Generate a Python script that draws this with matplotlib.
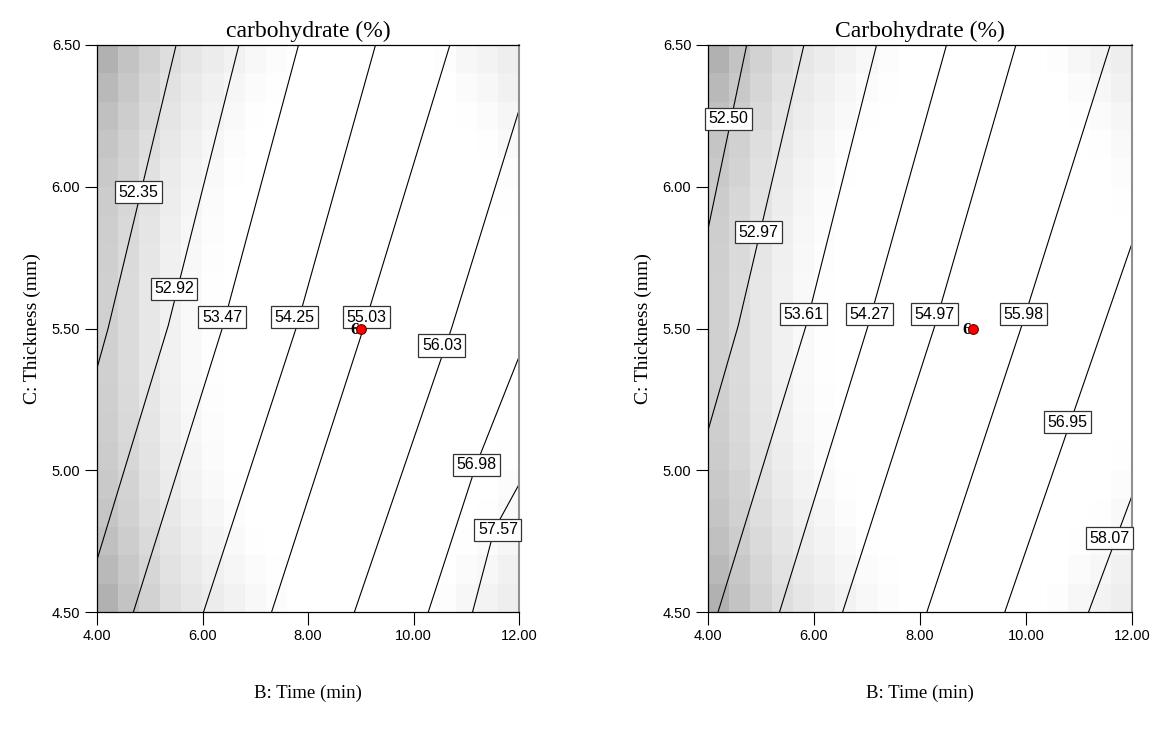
import numpy as np
import matplotlib
matplotlib.use("Agg")
import matplotlib.pyplot as plt

plt.rcParams["font.family"] = ["Liberation Sans", "DejaVu Sans"]

# 軸の範囲と目盛り
X_TICKS = [4.0, 6.0, 8.0, 10.0, 12.0]
Y_TICKS = [4.5, 5.0, 5.5, 6.0, 6.5]

# 背景の灰色 (255 - 値), 20 x 20 のブロック, 上の行から
SHADE_DARKNESS = [
    [78, 60, 45, 33, 25, 19, 13, 7, 3, 0, 0, 0, 0, 0, 0, 0, 2, 8, 11, 17],
    [70, 55, 41, 29, 21, 15, 9, 4, 1, 0, 0, 0, 0, 0, 0, 0, 0, 4, 8, 14],
    [63, 50, 37, 26, 18, 12, 6, 1, 0, 0, 0, 0, 0, 0, 0, 0, 0, 1, 4, 9],
    [58, 46, 33, 23, 15, 9, 3, 0, 0, 0, 0, 0, 0, 0, 0, 0, 0, 0, 1, 6],
    [54, 43, 30, 20, 12, 6, 1, 0, 0, 0, 0, 0, 0, 0, 0, 0, 0, 0, 0, 3],
    [51, 40, 28, 18, 10, 4, 0, 0, 0, 0, 0, 0, 0, 0, 0, 0, 0, 0, 0, 1],
    [49, 38, 26, 16, 8, 3, 0, 0, 0, 0, 0, 0, 0, 0, 0, 0, 0, 0, 0, 0],
    [48, 37, 25, 15, 7, 2, 0, 0, 0, 0, 0, 0, 0, 0, 0, 0, 0, 0, 0, 0],
    [47, 36, 24, 14, 6, 1, 0, 0, 0, 0, 0, 0, 0, 0, 0, 0, 0, 0, 0, 0],
    [47, 36, 24, 14, 6, 1, 0, 0, 0, 0, 0, 0, 0, 0, 0, 0, 0, 0, 0, 0],
    [47, 36, 24, 14, 6, 1, 0, 0, 0, 0, 0, 0, 0, 0, 0, 0, 0, 0, 0, 0],
    [47, 36, 24, 14, 6, 1, 0, 0, 0, 0, 0, 0, 0, 0, 0, 0, 0, 0, 0, 0],
    [48, 37, 25, 15, 7, 2, 0, 0, 0, 0, 0, 0, 0, 0, 0, 0, 0, 0, 0, 0],
    [49, 38, 26, 16, 8, 3, 0, 0, 0, 0, 0, 0, 0, 0, 0, 0, 0, 0, 0, 0],
    [51, 40, 28, 18, 10, 4, 0, 0, 0, 0, 0, 0, 0, 0, 0, 0, 0, 0, 0, 1],
    [54, 43, 30, 20, 12, 6, 1, 0, 0, 0, 0, 0, 0, 0, 0, 0, 0, 0, 0, 3],
    [58, 46, 33, 23, 15, 9, 3, 0, 0, 0, 0, 0, 0, 0, 0, 0, 0, 0, 1, 6],
    [63, 50, 37, 26, 18, 12, 6, 1, 0, 0, 0, 0, 0, 0, 0, 0, 0, 1, 4, 9],
    [70, 55, 41, 29, 21, 15, 9, 4, 1, 0, 0, 0, 0, 0, 0, 0, 0, 4, 8, 14],
    [78, 60, 45, 33, 25, 19, 13, 7, 3, 0, 0, 0, 0, 0, 0, 0, 2, 8, 11, 17],
]

# 左: carbohydrate の等高線
LEFT_TITLE = "carbohydrate (%)"
LEFT_LEVELS = [52.35, 52.92, 53.47, 54.25, 55.03, 56.03, 56.98, 57.57]
LEFT_LINE_X = [
    [5.50, 4.21, 4.00],
    [6.69, 5.35, 4.01],
    [7.82, 6.39, 4.69],
    [9.28, 7.79, 6.02],
    [10.69, 9.05, 7.31],
    [12.00, 10.72, 8.88],
    [12.00, 11.19, 10.28],
    [12.00, 11.53, 11.12],
]
LEFT_LINE_Y = [
    [6.50, 5.50, 5.36],
    [6.50, 5.51, 4.69],
    [6.50, 5.51, 4.50],
    [6.50, 5.51, 4.50],
    [6.50, 5.50, 4.50],
    [6.27, 5.50, 4.50],
    [5.40, 5.02, 4.50],
    [4.95, 4.79, 4.50],
]
LEFT_LABEL_X = [4.78, 5.46, 6.37, 7.75, 9.10, 10.54, 11.20, 11.60]
LEFT_LABEL_Y = [5.98, 5.64, 5.54, 5.54, 5.54, 5.44, 5.02, 4.79]

# 右: Carbohydrate の等高線
RIGHT_TITLE = "Carbohydrate (%)"
RIGHT_LEVELS = [52.50, 52.97, 53.61, 54.27, 54.97, 55.98, 56.95, 58.07]
RIGHT_LINE_X = [
    [4.73, 4.00],
    [5.81, 4.57, 4.00],
    [7.18, 5.85, 4.19],
    [8.50, 7.02, 5.35],
    [9.81, 8.28, 6.54],
    [11.59, 9.92, 8.13],
    [12.00, 9.60],
    [12.00, 11.18],
]
RIGHT_LINE_Y = [
    [6.50, 5.85],
    [6.50, 5.51, 5.14],
    [6.50, 5.51, 4.50],
    [6.50, 5.51, 4.50],
    [6.50, 5.51, 4.50],
    [6.50, 5.51, 4.50],
    [5.80, 4.50],
    [4.91, 4.50],
]
RIGHT_LABEL_X = [4.38, 4.95, 5.80, 7.04, 8.27, 9.95, 10.78, 11.57]
RIGHT_LABEL_Y = [6.24, 5.84, 5.55, 5.55, 5.55, 5.55, 5.17, 4.76]

# 設計点 (中心点, 6 回)
DESIGN_X = [9.0]
DESIGN_Y = [5.5]
DESIGN_COUNT = ["6"]

X_LABEL = "B: Time (min)"
Y_LABEL = "C: Thickness (mm)"

SERIF = ["Liberation Serif", "DejaVu Serif"]


def draw_panel(ax, title, levels, line_x, line_y, label_x, label_y):
    shade = 255 - np.array(SHADE_DARKNESS)
    ax.imshow(shade, cmap="gray", vmin=0, vmax=255, origin="upper",
              extent=[X_TICKS[0], X_TICKS[-1], Y_TICKS[0], Y_TICKS[-1]],
              aspect="auto", interpolation="nearest", zorder=0)

    for xs, ys in zip(line_x, line_y):
        ax.plot(xs, ys, color="black", linewidth=0.8, zorder=2)

    for lev, lx, ly in zip(levels, label_x, label_y):
        ax.text(lx, ly, f"{lev:.2f}", fontsize=11.5, ha="center", va="center",
                zorder=4, clip_on=False,
                bbox=dict(boxstyle="square,pad=0.22", facecolor="white",
                          edgecolor="#333333", linewidth=0.9))

    for dx, dy, cnt in zip(DESIGN_X, DESIGN_Y, DESIGN_COUNT):
        ax.plot(dx, dy, "o", markersize=7, markerfacecolor="red",
                markeredgecolor="#600000", markeredgewidth=0.8, zorder=6)
        ax.text(dx - 0.03, dy - 0.005, cnt, fontsize=12.5, fontweight="bold",
                family=SERIF, ha="right", va="center", zorder=5)

    ax.set_xlim(X_TICKS[0], X_TICKS[-1])
    ax.set_ylim(Y_TICKS[0], Y_TICKS[-1])
    ax.set_xticks(X_TICKS)
    ax.set_yticks(Y_TICKS)
    ax.set_xticklabels([f"{v:.2f}" for v in X_TICKS])
    ax.set_yticklabels([f"{v:.2f}" for v in Y_TICKS])
    ax.tick_params(direction="out", length=9, width=0.8, labelsize=10.5,
                   pad=3)

    for side in ["left", "bottom", "top"]:
        ax.spines[side].set_linewidth(0.9)
    ax.spines["right"].set_color("#909090")
    ax.spines["right"].set_linewidth(1.5)

    ax.set_title(title, family=SERIF, fontsize=17, pad=6)
    ax.set_xlabel(X_LABEL, family=SERIF, fontsize=13.5, labelpad=30)
    ax.set_ylabel(Y_LABEL, family=SERIF, fontsize=14, labelpad=8)


fig = plt.figure(figsize=(11.52, 7.3), dpi=100)
ax_left = fig.add_axes([97 / 1152, 1 - 612 / 730, 422 / 1152, 567 / 730])
ax_right = fig.add_axes([708 / 1152, 1 - 612 / 730, 424 / 1152, 567 / 730])

draw_panel(ax_left, LEFT_TITLE, LEFT_LEVELS, LEFT_LINE_X, LEFT_LINE_Y,
           LEFT_LABEL_X, LEFT_LABEL_Y)
draw_panel(ax_right, RIGHT_TITLE, RIGHT_LEVELS, RIGHT_LINE_X, RIGHT_LINE_Y,
           RIGHT_LABEL_X, RIGHT_LABEL_Y)

fig.savefig("out.png", dpi=100, facecolor="white")
